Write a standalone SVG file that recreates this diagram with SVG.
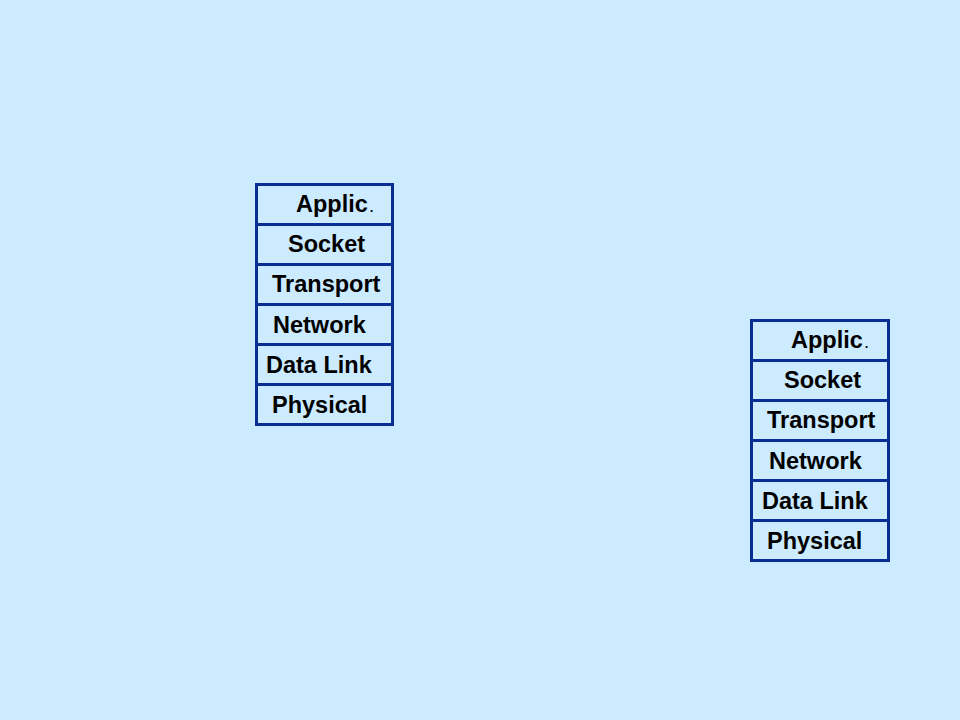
<svg xmlns="http://www.w3.org/2000/svg" width="960" height="720" viewBox="0 0 960 720">
<style>
.bg{fill:#CCEBFF}
.layer{fill:#CCEBFF;stroke:#0A2E96;stroke-width:3}
.lbl{font-family:"Liberation Sans",Arial,sans-serif;font-weight:bold;font-size:23.5px;fill:#000}
.dot{font-size:13px}
</style>
<rect class="bg" x="0" y="0" width="960" height="720"/>
<g id="host-left">
  <g id="left-applic"><rect class="layer" x="256.5" y="184.5" width="136" height="40"/><text class="lbl" x="296" y="212">Applic<tspan class="dot" dx="2">.</tspan></text></g>
  <g id="left-socket"><rect class="layer" x="256.5" y="224.5" width="136" height="40"/><text class="lbl" x="288" y="252">Socket</text></g>
  <g id="left-transport"><rect class="layer" x="256.5" y="264.5" width="136" height="40"/><text class="lbl" x="272" y="292">Transport</text></g>
  <g id="left-network"><rect class="layer" x="256.5" y="304.5" width="136" height="40"/><text class="lbl" x="273" y="333">Network</text></g>
  <g id="left-datalink"><rect class="layer" x="256.5" y="344.5" width="136" height="40"/><text class="lbl" x="266" y="373">Data Link</text></g>
  <g id="left-physical"><rect class="layer" x="256.5" y="384.5" width="136" height="40"/><text class="lbl" x="272" y="413">Physical</text></g>
</g>
<g id="host-right">
  <g id="right-applic"><rect class="layer" x="751.5" y="320.5" width="137" height="40"/><text class="lbl" x="791" y="348">Applic<tspan class="dot" dx="2">.</tspan></text></g>
  <g id="right-socket"><rect class="layer" x="751.5" y="360.5" width="137" height="40"/><text class="lbl" x="784" y="388">Socket</text></g>
  <g id="right-transport"><rect class="layer" x="751.5" y="400.5" width="137" height="40"/><text class="lbl" x="767" y="428">Transport</text></g>
  <g id="right-network"><rect class="layer" x="751.5" y="440.5" width="137" height="40"/><text class="lbl" x="769" y="469">Network</text></g>
  <g id="right-datalink"><rect class="layer" x="751.5" y="480.5" width="137" height="40"/><text class="lbl" x="762" y="509">Data Link</text></g>
  <g id="right-physical"><rect class="layer" x="751.5" y="520.5" width="137" height="40"/><text class="lbl" x="767" y="549">Physical</text></g>
</g>
<g id="connectors"></g>
</svg>
